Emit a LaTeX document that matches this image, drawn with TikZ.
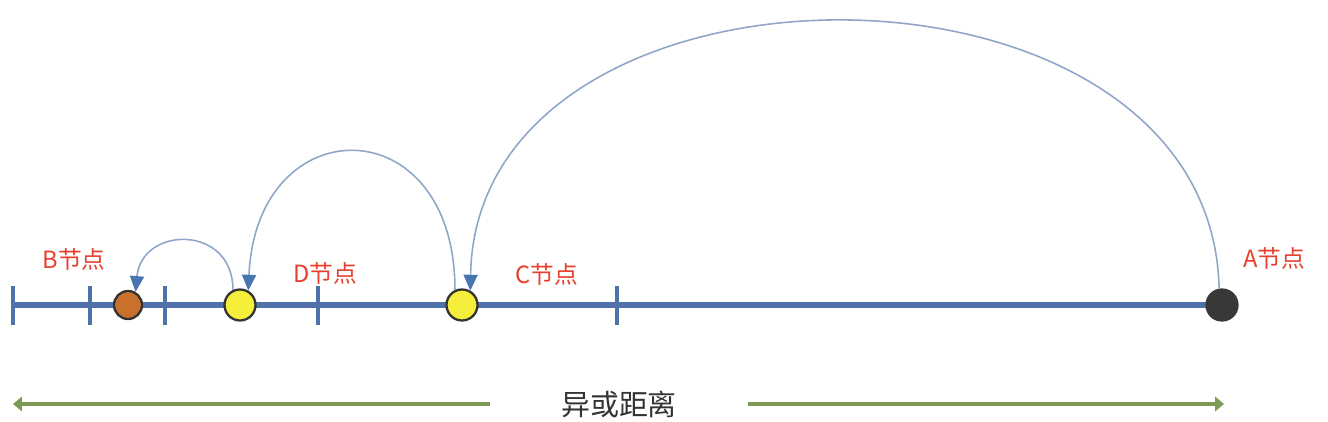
\documentclass[tikz,border=0pt]{standalone}
\usepackage{fontspec}
\newfontfamily\cjk{Noto Sans CJK SC}
\usetikzlibrary{arrows.meta}
\definecolor{axisblue}{HTML}{4F73A8}
\definecolor{arcblue}{HTML}{8FA6C8}
\definecolor{tipblue}{HTML}{4A76B0}
\definecolor{labred}{HTML}{E8402E}
\definecolor{distgreen}{HTML}{7D9A55}
\definecolor{nodebrown}{HTML}{C8702C}
\definecolor{nodeyellow}{HTML}{F5EE3A}
\begin{document}
\begin{tikzpicture}[x=0.02cm,y=-0.02cm,
    dot/.style={circle,draw=black!80,line width=1.3pt,inner sep=0pt,minimum size=#1},
    lbl/.style={font=\cjk\fontsize{13.5}{16}\selectfont,text=labred},
    hop/.style={draw=arcblue,line width=0.9pt,-{Triangle[length=9pt,width=8pt,color=tipblue]}},
    dist/.style={draw=distgreen,line width=2.4pt,-{Triangle[length=5pt,width=8pt]}}]
\useasboundingbox (0,0) rectangle (1328,422);
% axis and ticks
\draw[axisblue,line width=3pt] (13,305) -- (1222,305);
\draw[axisblue,line width=2pt]
    \foreach \t in {13,90,165,318,617}{ (\t,286) -- (\t,325)};
% nodes on the axis
\node[dot=28*0.02cm,fill=nodebrown] (B) at (128,305) {};
\node[dot=31*0.02cm,fill=nodeyellow] (D) at (240,305) {};
\node[dot=31*0.02cm,fill=nodeyellow] (C) at (462,305) {};
\node[dot=31*0.02cm,fill=black!78,draw=black!78] (A) at (1222,305) {};
% labels
\node[lbl] (labB) at (74,259) {B节点};
\node[lbl] (labD) at (325,273) {D节点};
\node[lbl] (labC) at (547,274) {C节点};
\node[lbl] (labA) at (1274,258) {A节点};
% lookups
\draw[hop] (D.115) .. controls +(0,-66) and +(6,-66) .. (B.60);
\draw[hop] (C.115) .. controls +(0,-184) and +(8,-184) .. (D.60);
\draw[hop] (A.100) .. controls +(-8,-357) and +(6,-357) .. (C.60);
% xor distance
\node[font=\cjk\fontsize{16.5}{20}\selectfont,text=black!80,inner xsep=1.42cm] (dist) at (619,404) {异或距离};
\coordinate (lend) at (13,404);
\coordinate (rend) at (1224,404);
\draw[dist] (dist.west) -- (lend);
\draw[dist] (dist.east) -- (rend);
\end{tikzpicture}
\end{document}
